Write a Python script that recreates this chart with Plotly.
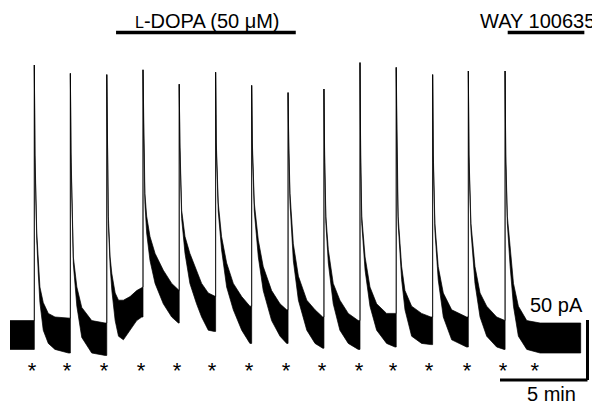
import plotly.graph_objects as go

# ------------------------------- Datos -------------------------------

# Inicio de cada corriente transitoria (min) y amplitud del pico (pA)
peak_t = [1.39, 3.45, 5.53, 7.60, 9.67, 11.75, 13.81, 15.89, 17.94, 20.00, 22.07, 24.15, 26.19, 28.29]
peak_amp = [225, 218, 217, 221, 209, 219, 208, 202, 205, 227, 223, 217, 220, 220]

# Linea base antes del primer transitorio (envolvente superior / inferior del ruido)
base_t = [0.0, 1.39]
base_hi = [12, 12]
base_lo = [-12, -12]

# Decaimiento tras cada pico: tiempo desde el pico (min), envolvente superior e inferior (pA)
decay_dt = [
    [0.04, 0.14, 0.23, 0.32, 0.51, 0.80, 1.18, 1.95],
    [0.04, 0.17, 0.37, 0.65, 1.22, 1.98],
    [0.04, 0.09, 0.19, 0.29, 0.48, 0.67, 0.95, 1.33, 1.71, 2.00],
    [0.04, 0.11, 0.21, 0.40, 0.69, 1.16, 1.64, 2.02],
    [0.04, 0.14, 0.33, 0.61, 0.99, 1.28, 1.66, 2.00],
    [0.04, 0.15, 0.34, 0.63, 1.01, 1.49, 1.96],
    [0.04, 0.15, 0.38, 0.66, 1.14, 1.62, 2.00],
    [0.04, 0.11, 0.30, 0.59, 1.07, 1.54, 1.98],
    [0.04, 0.11, 0.25, 0.53, 0.91, 1.39, 1.96],
    [0.04, 0.10, 0.29, 0.57, 0.95, 1.52, 2.00],
    [0.04, 0.11, 0.31, 0.50, 0.88, 1.45, 1.98],
    [0.04, 0.13, 0.32, 0.61, 1.09, 1.94],
    [0.04, 0.15, 0.38, 0.67, 1.05, 1.62, 2.04],
    [0.04, 0.13, 0.29, 0.48, 0.76, 1.24, 2.00, 4.32],
]
decay_hi = [
    [150, 85, 57, 40, 27, 18, 15, 14],
    [150, 65, 40, 23, 12, 10],
    [155, 99, 65, 51, 35, 29, 29, 32, 37, 40],
    [170, 118, 99, 82, 68, 54, 43, 37],
    [160, 104, 82, 68, 54, 43, 35, 32],
    [160, 110, 82, 60, 43, 32, 24],
    [160, 110, 79, 57, 37, 26, 21],
    [160, 118, 76, 49, 29, 21, 15],
    [150, 99, 71, 43, 29, 18, 12],
    [150, 99, 65, 40, 26, 18, 18],
    [150, 99, 57, 37, 24, 18, 15],
    [150, 93, 57, 35, 21, 15],
    [150, 93, 57, 35, 24, 15, 12],
    [150, 99, 71, 43, 24, 12, 10, 10],
]
decay_lo = [
    [144, 79, 50, 27, 4, -7, -12, -15],
    [144, 59, 24, -2, -15, -17],
    [149, 93, 58, 37, 12, -1, -4, 4, 12, 15],
    [164, 110, 85, 62, 43, 26, 15, 10],
    [154, 97, 68, 43, 26, 15, 4, 3],
    [154, 103, 71, 40, 21, 4, -7],
    [154, 103, 65, 37, 12, -1, -7],
    [154, 110, 62, 29, 4, -7, -11],
    [144, 93, 60, 26, 4, -7, -12],
    [144, 93, 54, 24, 4, -7, -10],
    [144, 93, 46, 21, -1, -7, -8],
    [144, 87, 46, 15, -4, -10],
    [144, 87, 43, 15, -1, -10, -12],
    [144, 93, 57, 24, -1, -12, -15, -15],
]

# Estimulos (asteriscos), aplicacion de farmacos y barras de escala
stim_t = [1.26, 3.26, 5.37, 7.49, 9.54, 11.54, 13.66, 15.77, 17.83, 19.94, 21.89, 23.94, 26.11, 28.17, 29.99]
ldopa_on, ldopa_off = 6.06, 16.33
way_on, way_off = 28.44, 32.82
bar_min = 5
bar_pa = 50

# ------------------------------- Funciones -------------------------------

# Arma el poligono (envolvente superior + inferior invertida) del registro
def armar_traza():
    sup_x, sup_y = list(base_t), list(base_hi)
    inf_x, inf_y = list(base_t), list(base_lo)
    for i, tp in enumerate(peak_t):
        # subida instantanea hasta el pico
        sup_x += [tp, tp]
        sup_y += [sup_y[-1], peak_amp[i]]
        inf_x += [tp, tp]
        inf_y += [inf_y[-1], peak_amp[i]]
        for dt, hi, lo in zip(decay_dt[i], decay_hi[i], decay_lo[i]):
            sup_x.append(tp + dt)
            sup_y.append(hi)
            inf_x.append(tp + dt)
            inf_y.append(lo)
    xs = sup_x + inf_x[::-1]
    ys = sup_y + inf_y[::-1]
    return xs, ys


xs, ys = armar_traza()

fig = go.Figure()
fig.add_trace(go.Scatter(
    x = xs, y = ys, mode = 'lines', fill = 'toself',
    fillcolor = 'black', line = dict(color = 'black', width = 0.7),
    hoverinfo = 'skip', showlegend = False))

fig.add_trace(go.Scatter(
    x = stim_t, y = [-31] * len(stim_t), mode = 'text', text = ['*'] * len(stim_t),
    textfont = dict(family = 'Liberation Sans', size = 22, color = 'black'),
    hoverinfo = 'skip', showlegend = False))

# Barras de aplicacion de farmacos
fig.add_shape(type = 'line', x0 = ldopa_on, x1 = ldopa_off, y0 = 252, y1 = 252,
              line = dict(color = 'black', width = 3.5))
fig.add_shape(type = 'line', x0 = way_on, x1 = way_off, y0 = 252, y1 = 252,
              line = dict(color = 'black', width = 3.5))

# Barras de escala
fig.add_shape(type = 'line', x0 = 33.0 - bar_min, x1 = 33.0, y0 = -37.5, y1 = -37.5,
              line = dict(color = 'black', width = 3))
fig.add_shape(type = 'line', x0 = 33.0, x1 = 33.0, y0 = -37.5, y1 = -37.5 + bar_pa,
              line = dict(color = 'black', width = 3))

fuente = dict(family = 'Liberation Sans', size = 20, color = 'black')
textos = [
    (11.3, 262, '<span style="font-size:16px">L</span>-DOPA (50 μM)'),
    (30.17, 262, 'WAY 100635'),
    (31.2, 25, '50 pA'),
    (30.97, -49.5, '5 min'),
]
for x, y, t in textos:
    fig.add_annotation(x = x, y = y, text = t, showarrow = False, font = fuente,
                       xanchor = 'center', yanchor = 'middle')

# La pagina deja 8 px de margen, por eso la figura mide 592x397
fig.update_xaxes(range = [-0.114, 33.714], visible = False)
fig.update_yaxes(range = [-58.33, 272.5], visible = False)
fig.update_layout(
    width = 592, height = 397,
    margin = dict(l = 0, r = 0, t = 0, b = 0),
    plot_bgcolor = 'white', paper_bgcolor = 'white')

fig.write_html("out.html")
